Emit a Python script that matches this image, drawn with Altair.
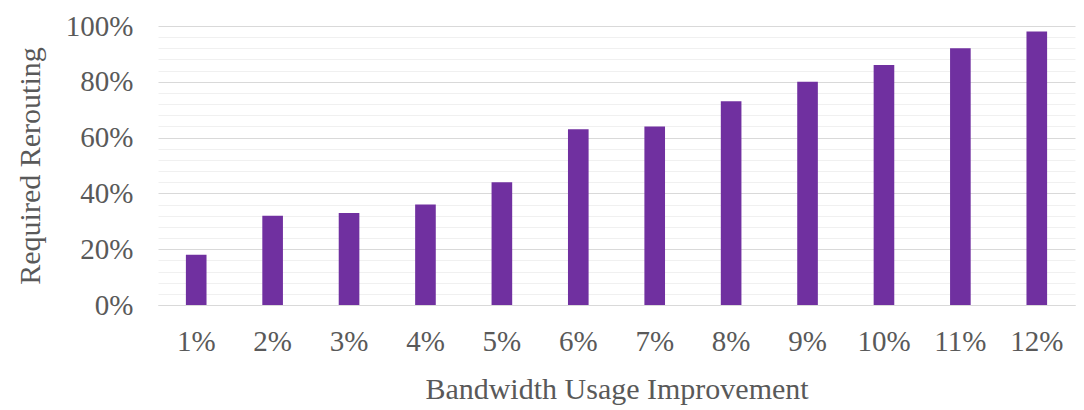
import altair as alt
import pandas as pd

improvement = ["1%", "2%", "3%", "4%", "5%", "6%", "7%", "8%", "9%", "10%", "11%", "12%"]
rerouting = [0.18, 0.32, 0.33, 0.36, 0.44, 0.63, 0.64, 0.73, 0.80, 0.86, 0.92, 0.98]
y_ticks = [i / 100 for i in range(0, 101, 4)]

df = pd.DataFrame({"Improvement": improvement, "Rerouting": rerouting})

FONT = "Liberation Serif"
TXT = "#595959"

chart = alt.Chart(df).mark_bar(color="#7030A0").encode(
    x=alt.X("Improvement:N", sort=improvement,
            scale=alt.Scale(paddingInner=0.73, paddingOuter=0.365),
            axis=alt.Axis(title="Bandwidth Usage Improvement", labelAngle=0,
                          ticks=False, domainColor="#d9d9d9", labelPadding=22,
                          titlePadding=18)),
    y=alt.Y("Rerouting:Q", scale=alt.Scale(domain=[0, 1], nice=False),
            axis=alt.Axis(title="Required Rerouting", values=y_ticks, format=".0%",
                          labelExpr="round(datum.value*100) % 20 === 0 ? datum.label : ''",
                          gridColor={"condition": {"test": "round(datum.value*100) % 20 === 0", "value": "#d9d9d9"}, "value": "#f0f0f0"},
                          ticks=False, domain=False, labelPadding=25, titlePadding=20)),
).properties(
    width=917, height=279,
    padding={"left": 150, "top": 18, "right": 1, "bottom": 104},
    autosize="none",
).configure_axis(
    labelFont=FONT, titleFont=FONT, labelFontSize=29, titleFontSize=30,
    labelColor=TXT, titleColor=TXT, titleFontWeight="normal",
).configure_view(stroke=None)

chart.save("out.html", embed_options={"renderer": "svg", "actions": False})
